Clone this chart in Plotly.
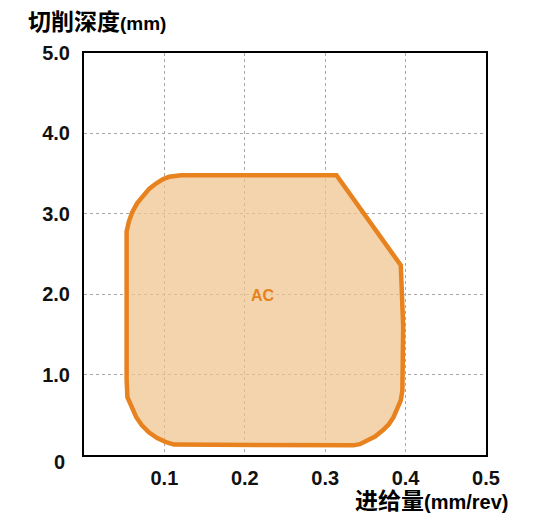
import plotly.graph_objects as go

# Boundary of the AC application range (feed mm/rev, depth mm)
feed = [0.053, 0.053, 0.056, 0.060, 0.066, 0.073, 0.081, 0.090, 0.098, 0.106, 0.114, 0.121,
        0.314, 0.392, 0.394, 0.397, 0.397, 0.396, 0.394, 0.390, 0.385, 0.379, 0.372, 0.362, 0.351, 0.343, 0.335,
        0.122, 0.112, 0.102, 0.091, 0.081, 0.072, 0.065, 0.059, 0.054, 0.053]
depth = [0.94, 2.78, 2.91, 3.02, 3.13, 3.22, 3.31, 3.38, 3.43, 3.46, 3.475, 3.48,
         3.48, 2.37, 2.36, 1.60, 0.88, 0.80, 0.68, 0.57, 0.47, 0.38, 0.31, 0.23, 0.17, 0.135, 0.12,
         0.12, 0.13, 0.16, 0.21, 0.28, 0.37, 0.47, 0.59, 0.72, 0.94]

x_ticks = [0.1, 0.2, 0.3, 0.4, 0.5]
x_tick_text = ["0.1", "0.2", "0.3", "0.4", "0.5"]
y_ticks = [1, 2, 3, 4, 5]
y_tick_text = ["1.0", "2.0", "3.0", "4.0", "5.0"]
origin_text = "0"

label_text = "AC"
label_pos = (0.223, 1.99)

FONT = "Liberation Sans, Arial, Noto Sans CJK SC"
ORANGE = "#E8821E"

fig = go.Figure()
fig.add_trace(go.Scatter(
    x=feed, y=depth, mode="lines", fill="toself",
    fillcolor="rgba(240,196,140,0.72)",
    line=dict(color=ORANGE, width=4.5),
    hoverinfo="skip", showlegend=False,
))

fig.add_annotation(x=label_pos[0], y=label_pos[1], text="<b>%s</b>" % label_text,
                   showarrow=False, font=dict(family=FONT, size=16, color=ORANGE))

fig.add_annotation(xref="paper", yref="paper", x=-0.06, y=-0.017, xanchor="center", yanchor="middle",
                   text="<b>%s</b>" % origin_text, showarrow=False,
                   font=dict(family=FONT, size=20, color="#111"))

fig.add_annotation(xref="paper", yref="paper", x=-0.144, y=1.077, xanchor="left", yanchor="middle",
                   text="<b>切削深度<span style='font-size:19px'>(mm)</span></b>", showarrow=False,
                   font=dict(family=FONT, size=23, color="black"))
fig.add_annotation(xref="paper", yref="paper", x=1.06, y=-0.115, xanchor="right", yanchor="middle",
                   text="<b>进给量<span style='font-size:20px'>(mm/rev)</span></b>", showarrow=False,
                   font=dict(family=FONT, size=23, color="black"))

grid = dict(showgrid=True, gridcolor="#A8A8A8", griddash="dot", gridwidth=1.2)
fig.update_xaxes(range=[0, 0.5], tickvals=x_ticks, ticktext=x_tick_text,
                 showline=True, linecolor="black", linewidth=2, mirror=True,
                 zeroline=False, ticks="", ticklabelstandoff=4,
                 tickfont=dict(family=FONT, size=20, color="#111", weight="bold"), **grid)
fig.update_yaxes(range=[0, 5], tickvals=y_ticks, ticktext=y_tick_text,
                 showline=True, linecolor="black", linewidth=2, mirror=True,
                 zeroline=False, ticks="", ticklabelstandoff=8,
                 tickfont=dict(family=FONT, size=20, color="#111", weight="bold"), **grid)

fig.update_layout(width=528, height=510,
                  margin=dict(l=76, r=50, t=45, b=63),
                  plot_bgcolor="white", paper_bgcolor="white")

fig.write_html("out.html")
